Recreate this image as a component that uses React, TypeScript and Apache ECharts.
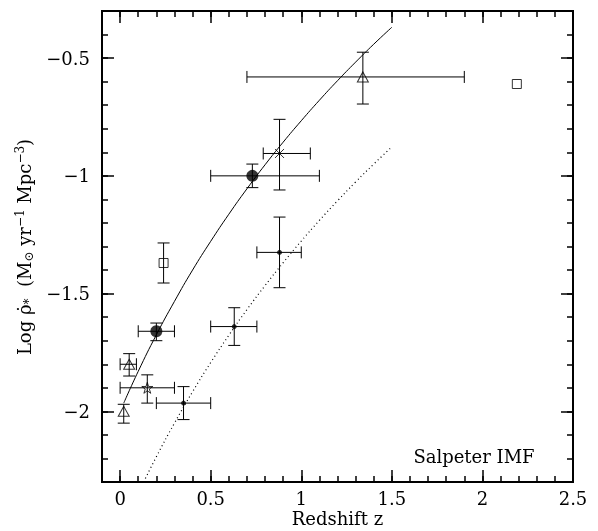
import React, { useEffect, useRef } from "react";
import * as echarts from "echarts";

// Axis ticks
const xMajorTicks = [0, 0.5, 1, 1.5, 2, 2.5];
const yMajorTicks = [-2, -1.5, -1, -0.5];

// Data points: [z, log rho, zLow, zHigh, logLow, logHigh]  (null = no bar)
const openTriangles = [
  [0.02, -2.0, null, null, -2.05, -1.97],
  [0.05, -1.8, 0.0, 0.09, -1.85, -1.755],
  [1.34, -0.58, 0.7, 1.9, -0.695, -0.475],
];
const openStars = [[0.15, -1.9, 0.0, 0.3, -1.965, -1.845]];
const smallDots = [
  [0.35, -1.965, 0.2, 0.5, -2.035, -1.895],
  [0.63, -1.64, 0.5, 0.755, -1.72, -1.56],
  [0.88, -1.325, 0.755, 1.0, -1.475, -1.175],
];
const bigDots = [
  [0.2, -1.66, 0.1, 0.3, -1.7, -1.625],
  [0.73, -1.0, 0.5, 1.1, -1.05, -0.95],
];
const openSquares = [
  [0.24, -1.37, null, null, -1.455, -1.285],
  [2.19, -0.61, null, null, null, null],
];
const crosses = [[0.88, -0.905, 0.79, 1.05, -1.06, -0.76]];

// Model curves
const solidZ = [0.02, 0.1, 0.2, 0.3, 0.4, 0.5, 0.6, 0.7, 0.8, 0.9, 1.0, 1.1, 1.2, 1.3, 1.4, 1.5];
const solidY = [-1.965, -1.83, -1.675, -1.533, -1.4, -1.278, -1.163, -1.055, -0.953, -0.857, -0.766, -0.679, -0.596, -0.517, -0.441, -0.369];
const dottedZ = [0.13, 0.2, 0.3, 0.4, 0.5, 0.6, 0.7, 0.8, 0.9, 1.0, 1.1, 1.2, 1.3, 1.4, 1.5];
const dottedY = [-2.3, -2.193, -2.05, -1.917, -1.793, -1.677, -1.568, -1.466, -1.369, -1.277, -1.189, -1.106, -1.026, -0.95, -0.877];

const FONT = "DejaVu Serif";
const FS = 18;
const allPoints = [...openTriangles, ...openStars, ...smallDots, ...bigDots, ...openSquares, ...crosses];

const STAR =
  "path://M50,0 L61.8,36.2 L100,36.2 L69.1,58.6 L80.9,95.1 L50,72.7 L19.1,95.1 L30.9,58.6 L0,36.2 L38.2,36.2 Z";
const CROSS = "path://M0,0 L10,10 M10,0 L0,10";

export default function App() {
  const ref = useRef<HTMLDivElement>(null);
  useEffect(() => {
    if (!ref.current) return;
    const chart = echarts.init(ref.current, undefined, { renderer: "svg" });
    const gridRect = { left: 102, top: 11, right: 25, bottom: 49 };
    const frame = { show: true, onZero: false, lineStyle: { color: "#000", width: 2 } };
    const xBase = { type: "value", min: -0.1, max: 2.5, splitLine: { show: false }, axisLine: frame };
    const yBase = { type: "value", min: -2.3, max: -0.3, splitLine: { show: false }, axisLine: frame };
    const tickStyle = { color: "#000", width: 1.5 };
    const minus = (v: number) => String(v).replace("-", "\u2212");

    const errSeries = {
      type: "custom",
      xAxisIndex: 0,
      yAxisIndex: 0,
      z: 1,
      data: allPoints.map((p) => [p[0], p[1]]),
      encode: { x: 0, y: 1 },
      renderItem: (params: any, api: any) => {
        const p = allPoints[params.dataIndex] as (number | null)[];
        const children: any[] = [];
        const cap = 6;
        const st = { stroke: "#000", lineWidth: 1 };
        if (p[2] != null && p[3] != null) {
          const a = api.coord([p[2], p[1]]);
          const b = api.coord([p[3], p[1]]);
          children.push({ type: "line", shape: { x1: a[0], y1: a[1], x2: b[0], y2: b[1] }, style: st });
          children.push({ type: "line", shape: { x1: a[0], y1: a[1] - cap, x2: a[0], y2: a[1] + cap }, style: st });
          children.push({ type: "line", shape: { x1: b[0], y1: b[1] - cap, x2: b[0], y2: b[1] + cap }, style: st });
        }
        if (p[4] != null && p[5] != null) {
          const a = api.coord([p[0], p[4]]);
          const b = api.coord([p[0], p[5]]);
          children.push({ type: "line", shape: { x1: a[0], y1: a[1], x2: b[0], y2: b[1] }, style: st });
          children.push({ type: "line", shape: { x1: a[0] - cap, y1: a[1], x2: a[0] + cap, y2: a[1] }, style: st });
          children.push({ type: "line", shape: { x1: b[0] - cap, y1: b[1], x2: b[0] + cap, y2: b[1] }, style: st });
        }
        return { type: "group", children };
      },
    };

    const hollow = { color: "rgba(255,255,255,0)", borderColor: "#000", borderWidth: 1 };
    const scatter = (data: any[], symbol: string, size: any, style: any) => ({
      type: "scatter",
      xAxisIndex: 0,
      yAxisIndex: 0,
      z: 3,
      symbol,
      symbolSize: size,
      itemStyle: style,
      data: data.map((p) => [p[0], p[1]]),
    });

    chart.setOption({
      animation: false,
      textStyle: { fontFamily: FONT, color: "#000" },
      grid: [0, 1, 2, 3].map(() => ({ ...gridRect })),
      xAxis: [
        { ...xBase, gridIndex: 0, position: "bottom", interval: 0.1, axisTick: { inside: true, length: 6, lineStyle: tickStyle }, axisLabel: { show: false } },
        {
          ...xBase, gridIndex: 1, position: "bottom",
          axisTick: { inside: true, length: 12, lineStyle: tickStyle, customValues: xMajorTicks },
          axisLabel: { customValues: xMajorTicks, fontFamily: FONT, fontSize: FS, lineHeight: 20, color: "#000", margin: 6, formatter: minus },
        },
        { ...xBase, gridIndex: 2, position: "top", interval: 0.1, axisTick: { inside: true, length: 6, lineStyle: tickStyle }, axisLabel: { show: false } },
        { ...xBase, gridIndex: 3, position: "top", axisTick: { inside: true, length: 12, lineStyle: tickStyle, customValues: xMajorTicks }, axisLabel: { show: false } },
      ],
      yAxis: [
        { ...yBase, gridIndex: 0, position: "left", interval: 0.1, axisTick: { inside: true, length: 6, lineStyle: tickStyle }, axisLabel: { show: false } },
        {
          ...yBase, gridIndex: 1, position: "left",
          axisTick: { inside: true, length: 12, lineStyle: tickStyle, customValues: yMajorTicks },
          axisLabel: { customValues: yMajorTicks, fontFamily: FONT, fontSize: FS, color: "#000", margin: 12, formatter: minus },
        },
        { ...yBase, gridIndex: 2, position: "right", interval: 0.1, axisTick: { inside: true, length: 6, lineStyle: tickStyle }, axisLabel: { show: false } },
        { ...yBase, gridIndex: 3, position: "right", axisTick: { inside: true, length: 12, lineStyle: tickStyle, customValues: yMajorTicks }, axisLabel: { show: false } },
      ],
      series: [
        {
          type: "line", xAxisIndex: 0, yAxisIndex: 0, showSymbol: false, smooth: true, z: 2,
          lineStyle: { color: "#000", width: 1 },
          data: solidZ.map((z, i) => [z, solidY[i]]),
        },
        {
          type: "line", xAxisIndex: 0, yAxisIndex: 0, showSymbol: false, smooth: true, z: 2,
          lineStyle: { color: "#000", width: 1.2, type: [1, 3] },
          data: dottedZ.map((z, i) => [z, dottedY[i]]),
        },
        errSeries,
        scatter(openTriangles, "triangle", [11, 10], hollow),
        scatter(openStars, STAR, 11, hollow),
        scatter(smallDots, "circle", 5, { color: "#000" }),
        scatter(bigDots, "circle", 12, { color: "#000" }),
        scatter(openSquares, "rect", 9, hollow),
        scatter(crosses, CROSS, 9, hollow),
      ],
      graphic: [
        {
          type: "text", x: 474, y: 456,
          style: { text: "Salpeter IMF", fontFamily: FONT, fontSize: FS, fill: "#000", align: "center", verticalAlign: "middle" },
        },
        {
          type: "text", x: 337.5, y: 518,
          style: { text: "Redshift z", fontFamily: FONT, fontSize: FS, lineHeight: 20, fill: "#000", align: "center", verticalAlign: "middle" },
        },
        {
          type: "text", x: 24, y: 247, rotation: Math.PI / 2,
          style: {
            text: "Log \u03C1\u0307{s|*}  (M{s|\u2299} yr{p|\u22121} Mpc{p|\u22123})",
            fontFamily: FONT, fontSize: FS, lineHeight: 21, fill: "#000", align: "center", verticalAlign: "middle",
            rich: {
              s: { fontFamily: FONT, fontSize: 12, lineHeight: 12, verticalAlign: "bottom", fill: "#000" },
              p: { fontFamily: FONT, fontSize: 12, lineHeight: 13, verticalAlign: "top", fill: "#000" },
            },
          },
        },
      ],
    });
    return () => chart.dispose();
  }, []);
  return <div ref={ref} style={{ position: "fixed", left: 0, top: 0, width: 598, height: 531 }} />;
}
